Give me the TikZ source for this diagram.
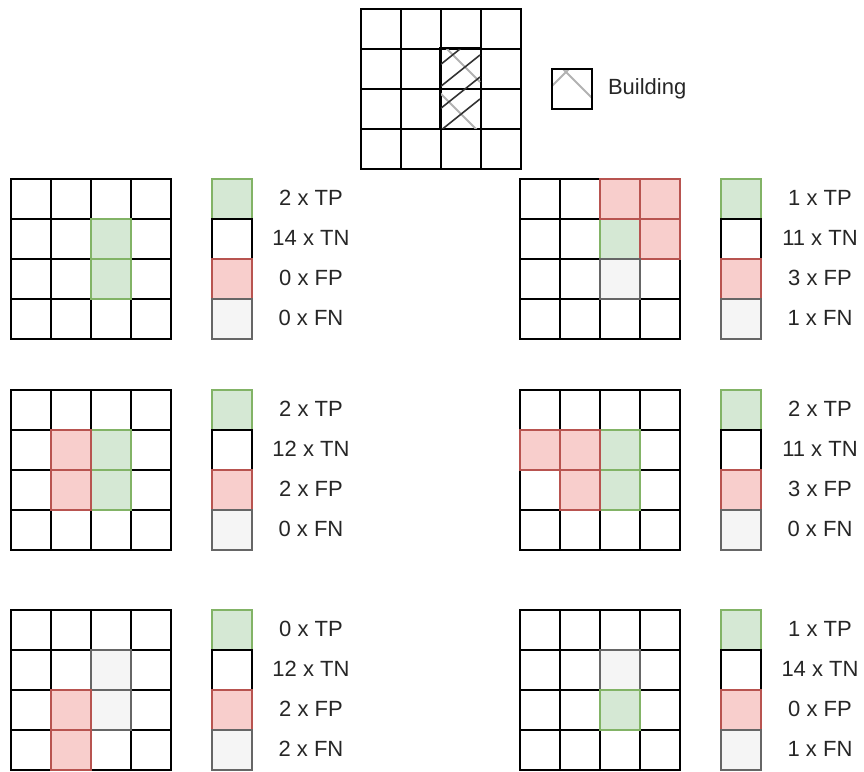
\documentclass[tikz,border=0pt]{standalone}
\usepackage{fontspec}
\setmainfont{Liberation Sans}
\usetikzlibrary{positioning}

\definecolor{tpfill}{HTML}{D5E8D4}
\definecolor{tpline}{HTML}{82B366}
\definecolor{fpfill}{HTML}{F8CECC}
\definecolor{fpline}{HTML}{B85450}
\definecolor{fnfill}{HTML}{F5F5F5}
\definecolor{fnline}{HTML}{666666}

% one 4x4 prediction grid with its legend
\newcommand{\matchpanel}[7]{%
  \begin{scope}[shift={#2}]
    \foreach \r in {1,...,4}
      \foreach \c in {1,...,4}
        \node[cell] (#1-\r-\c) at ({(\c-1)*40},{(\r-1)*40}) {};
    \foreach \r/\c/\k in {#3}
      \node[cell,\k] (#1-\k-\r-\c) at ({(\c-1)*40},{(\r-1)*40}) {};
    \foreach \k/\n [count=\i] in {tp/#4 x TP,tn/#5 x TN,fp/#6 x FP,fn/#7 x FN} {
      \node[cell,\k] (#1-key-\k) at (201,{(\i-1)*40}) {};
      \node[count] (#1-txt-\k) at (301,{(\i-1)*40+20}) {\n};
    }
  \end{scope}}

\begin{document}
\begin{tikzpicture}[x=1pt,y=-1pt,
    cell/.style={draw=black,line width=1.5pt,minimum size=40pt,inner sep=0pt,anchor=north west},
    tp/.style={fill=tpfill,draw=tpline},
    tn/.style={fill=white,draw=black},
    fp/.style={fill=fpfill,draw=fpline},
    fn/.style={fill=fnfill,draw=fnline},
    count/.style={font=\fontsize{22}{26}\selectfont,text=black!85},
    hatch/.style={black!80,line width=1.6pt},
    hatchgray/.style={black!30,line width=2pt}]
    \useasboundingbox (0,0) rectangle (864,771);

    % ground truth
    \begin{scope}[shift={(360,8)}]
        \foreach \r in {1,...,4}
            \foreach \c in {1,...,4}
                \node[cell] (bldg-\r-\c) at ({(\c-1)*40},{(\r-1)*40}) {};
    \end{scope}
    \begin{scope}
        \clip (bldg-2-3.north west) rectangle (bldg-3-3.south east);
        \foreach \h in {42,93}
            \draw[hatchgray] (440,\h) -- ++(40,40);
        \foreach \h in {65,87,109,131}
            \draw[hatch] (440,\h) -- ++(40,-32);
    \end{scope}
    \draw[cell,fill=none] (bldg-2-3.north west) rectangle (bldg-3-3.south east);

    \node[cell] (bkey) at (551,68) {};
    \begin{scope}
        \clip (bkey.north west) rectangle (bkey.south east);
        \draw[hatchgray] (586,52) -- (536,102);
        \draw[hatchgray] (546,52) -- (606,112);
    \end{scope}
    \node[cell,fill=none] at (bkey.north west) {};
    \node[count,right=12pt of bkey] (btxt) {Building};

    % predictions
    \matchpanel{pa}{(10,178)}{2/3/tp,3/3/tp}{2}{14}{0}{0}
    \matchpanel{pb}{(519,178)}{2/3/tp,1/3/fp,1/4/fp,2/4/fp,3/3/fn}{1}{11}{3}{1}
    \matchpanel{pc}{(10,389)}{2/3/tp,3/3/tp,2/2/fp,3/2/fp}{2}{12}{2}{0}
    \matchpanel{pd}{(519,389)}{2/3/tp,3/3/tp,2/1/fp,2/2/fp,3/2/fp}{2}{11}{3}{0}
    \matchpanel{pe}{(10,609)}{2/3/fn,3/3/fn,3/2/fp,4/2/fp}{0}{12}{2}{2}
    \matchpanel{pf}{(519,609)}{2/3/fn,3/3/tp}{1}{14}{0}{1}
\end{tikzpicture}
\end{document}
